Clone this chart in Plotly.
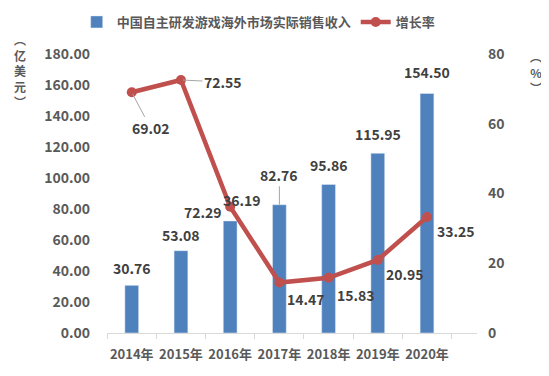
import plotly.graph_objects as go

years = ["2014年", "2015年", "2016年", "2017年", "2018年", "2019年", "2020年"]
revenue = [30.76, 53.08, 72.29, 82.76, 95.86, 115.95, 154.50]
growth = [69.02, 72.55, 36.19, 14.47, 15.83, 20.95, 33.25]
bar_name = "中国自主研发游戏海外市场实际销售收入"
line_name = "增长率"

FONT = "Noto Sans CJK SC"
GRAY = "#595959"
LBL = "#404040"
BLUE = "#4F81BD"
RED = "#C0504D"

def f(size, color=GRAY):
    return dict(family=FONT, size=size, color=color, weight="bold")

fig = go.Figure()
fig.add_trace(go.Bar(x=years, y=revenue, name=bar_name, marker_color=BLUE,
                     width=0.28, yaxis="y"))
fig.add_trace(go.Scatter(x=years, y=growth, name=line_name, mode="lines+markers",
                         line=dict(color=RED, width=4.5), marker=dict(color=RED, size=10),
                         yaxis="y2"))

# bar labels: (xshift, yshift, leader)
bar_off = [(0, 17, False), (0, 16, False), (-27, 9, False), (0, 30, True),
           (0, 19, False), (0, 19, False), (0, 22, False)]
for x, v, (dx, dy, lead) in zip(years, revenue, bar_off):
    if lead:
        fig.add_annotation(x=x, y=v, xref="x", yref="y", text=f"{v:.2f}", showarrow=True,
                           ax=dx, ay=-dy, arrowhead=0, arrowwidth=1, arrowcolor="#A6A6A6",
                           font=f(14, LBL))
    else:
        fig.add_annotation(x=x, y=v, xref="x", yref="y", text=f"{v:.2f}", showarrow=False,
                           xshift=dx, yshift=dy, font=f(14, LBL))

line_off = [(19, -36, True), (42, -2, True), (12, 7, False), (27, -16, False),
            (27, -17, False), (27, -14, False), (29, -14, False)]
for x, v, (dx, dy, lead) in zip(years, growth, line_off):
    if lead:
        fig.add_annotation(x=x, y=v, xref="x", yref="y2", text=f"{v:.2f}", showarrow=True,
                           ax=dx, ay=-dy, arrowhead=0, arrowwidth=1, arrowcolor="#A6A6A6",
                           standoff=2, font=f(14, LBL))
    else:
        fig.add_annotation(x=x, y=v, xref="x", yref="y2", text=f"{v:.2f}", showarrow=False,
                           xshift=dx, yshift=dy, font=f(14, LBL))

# axis titles (vertical)
fig.add_annotation(xref="paper", yref="paper", x=-0.235, xanchor="center", y=1.09,
                   yanchor="top", text="︵<br>亿<br>美<br>元<br>︶", showarrow=False,
                   font=f(12))
fig.add_annotation(xref="paper", yref="paper", x=1.16, xanchor="center", y=1.03,
                   yanchor="top", text="︵<br>%<br>︶", showarrow=False, font=f(12))

fig.update_layout(
    width=541, height=368,
    margin=dict(l=99, r=72, t=46, b=43, autoexpand=False),
    paper_bgcolor="white", plot_bgcolor="white",
    font=f(13),
    showlegend=True,
    legend=dict(orientation="h", x=0.41, xanchor="center", y=0.962, yanchor="middle",
                yref="container", font=f(13), itemwidth=30, traceorder="normal"),
    xaxis=dict(type="category", showline=True, linecolor="#D9D9D9", linewidth=1,
               ticks="outside", tickson="boundaries", ticklen=5, tickcolor="#D9D9D9",
               tickangle=0, tickfont=f(13), showgrid=False, ticklabelstandoff=9,
               automargin=False),
    yaxis=dict(range=[0, 180], dtick=20, tickformat=".2f", showgrid=False,
               zeroline=False, showline=False, ticks="", tickfont=f(14),
               ticklabelstandoff=16, automargin=False),
    yaxis2=dict(range=[0, 80], dtick=20, overlaying="y", side="right", showgrid=False,
                zeroline=False, showline=False, ticks="", tickfont=f(14),
                ticklabelstandoff=10, automargin=False),
)

fig.write_html("out.html")
